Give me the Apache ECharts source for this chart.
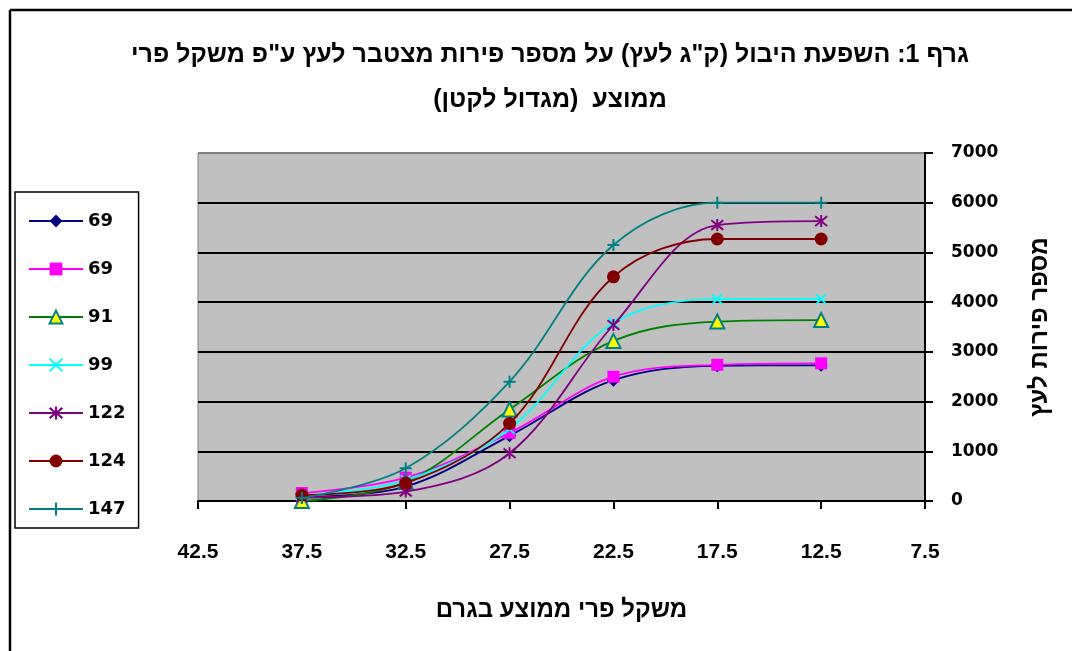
<!DOCTYPE html>
<html>
<head>
<meta charset="utf-8">
<script src="https://cdn.jsdelivr.net/npm/echarts@6/dist/echarts.min.js"></script>
<style>
html,body{margin:0;padding:0;background:#fff;}
#c{width:1072px;height:651px;}
</style>
</head>
<body>
<div id="c"></div>
<script>
const RLM = '\u200F';
const titleLine1 = 'גרף 1: השפעת היבול (ק"ג לעץ) על מספר פירות מצטבר לעץ ע"פ משקל פרי';
const titleLine2 = 'ממוצע  (מגדול לקטן)';
const xAxisTitle = 'משקל פרי ממוצע בגרם';
const yAxisTitle = 'מספר פירות לעץ';

const xValues = [37.5, 32.5, 27.5, 22.5, 17.5, 12.5];
const xTickLabels = [42.5, 37.5, 32.5, 27.5, 22.5, 17.5, 12.5, 7.5];
const seriesLabels = ['69', '69', '91', '99', '122', '124', '147'];

const s69a = [80, 290, 1310, 2430, 2720, 2730];
const s69b = [160, 470, 1370, 2500, 2740, 2770];
const s91  = [0, 380, 1840, 3220, 3610, 3640];
const s99  = [100, 420, 1450, 3580, 4060, 4060];
const s122 = [70, 190, 960, 3540, 5550, 5630];
const s124 = [120, 360, 1560, 4510, 5270, 5270];
const s147 = [60, 660, 2400, 5150, 6000, 6000];
const allSeries = [s69a, s69b, s91, s99, s122, s124, s147];

const styles = [
  {line:'#000080', symbol:'diamond', size:13, item:{color:'#000080'}},
  {line:'#FF00FF', symbol:'rect', size:12, item:{color:'#FF00FF'}},
  {line:'#008000', symbol:'triangle', size:14, item:{color:'#FFFF00', borderColor:'#008080', borderWidth:2}},
  {line:'#00FFFF', symbol:'path://M0,0L10,10M10,0L0,10', size:10, item:{color:'transparent', borderColor:'#00FFFF', borderWidth:2}},
  {line:'#800080', symbol:'path://M5,0L5,10M0,1L10,9M0,9L10,1', size:12, item:{color:'transparent', borderColor:'#800080', borderWidth:2}},
  {line:'#800000', symbol:'circle', size:13, item:{color:'#800000'}},
  {line:'#008080', symbol:'path://M5,0L5,10M0,5L10,5', size:12, item:{color:'transparent', borderColor:'#008080', borderWidth:2}}
];

const series = allSeries.map((vals, i) => ({
  name: 's' + i,
  type: 'line',
  smooth: 0.35,
  data: vals.map((v, j) => [xValues[j], v]),
  symbol: styles[i].symbol,
  symbolSize: styles[i].size,
  lineStyle: {color: styles[i].line, width: 1.8},
  itemStyle: styles[i].item,
  z: 3 + i
}));

const chart = echarts.init(document.getElementById('c'), null, {renderer:'canvas'});
const hebFont = '"Liberation Sans", "DejaVu Sans", sans-serif';
const numFont = '"DejaVu Sans", Verdana, sans-serif';

chart.setOption({
  animation: false,
  backgroundColor: '#fff',
  title: {
    text: RLM + titleLine1 + RLM + '\n' + RLM + titleLine2 + RLM,
    left: 545, top: 28, textAlign: 'center',
    textStyle: {fontFamily: hebFont, fontWeight: 'bold', fontSize: 25, lineHeight: 45, color:'#000'}
  },
  legend: {
    orient: 'vertical',
    left: 15, top: 192,
    data: series.map(s => s.name),
    formatter: n => seriesLabels[+n.slice(1)],
    itemWidth: 54, itemHeight: 16, itemGap: 30,
    padding: [20, 13, 10, 13],
    backgroundColor: '#fff',
    borderColor: '#000', borderWidth: 1.5,
    textStyle: {fontFamily: numFont, fontWeight: 'bold', fontSize: 18, color: '#000', lineHeight: 16}
  },
  grid: {
    left: 198, right: 147, top: 153, bottom: 150,
    show: true, backgroundColor: '#C0C0C0', borderColor: '#808080', borderWidth: 1
  },
  xAxis: {
    type: 'value', min: 7.5, max: 42.5, inverse: true,
    name: xAxisTitle, nameLocation: 'middle', nameGap: 97,
    nameTextStyle: {fontFamily: hebFont, fontWeight: 'bold', fontSize: 24, color: '#000'},
    axisLine: {onZero: false, lineStyle: {color: '#000', width: 2}},
    axisTick: {show: true, length: 8, inside: false, customValues: xTickLabels, lineStyle: {color: '#000', width: 2}},
    axisLabel: {customValues: xTickLabels, margin: 41, formatter: v => v.toFixed(1),
      fontFamily: '"Liberation Sans", sans-serif', fontWeight: 'bold', fontSize: 21, color: '#000'},
    splitLine: {show: false}
  },
  yAxis: {
    type: 'value', position: 'right', min: 0, max: 7000, interval: 1000,
    name: RLM + yAxisTitle + RLM, nameLocation: 'middle', nameGap: 103, nameRotate: 90,
    nameTextStyle: {fontFamily: hebFont, fontWeight: 'bold', fontSize: 24, color: '#000'},
    axisLine: {show: true, lineStyle: {color: '#000', width: 2}},
    axisTick: {show: true, length: 8, lineStyle: {color: '#000', width: 2}},
    axisLabel: {margin: 26, formatter: v => String(v), fontFamily: numFont, fontWeight: 'bold', fontSize: 17, color: '#000'},
    splitLine: {show: true, lineStyle: {color: ['#000','#000','#000','#000','#000','#000','#000','#808080'], width: 2}}
  },
  graphic: [
    {type: 'line', shape: {x1: 10, y1: 10, x2: 1072, y2: 10}, style: {stroke: '#000', lineWidth: 2.5}, silent: true},
    {type: 'line', shape: {x1: 10, y1: 10, x2: 10, y2: 651}, style: {stroke: '#000', lineWidth: 2.5}, silent: true}
  ],
  series: series
});
</script>
</body>
</html>
